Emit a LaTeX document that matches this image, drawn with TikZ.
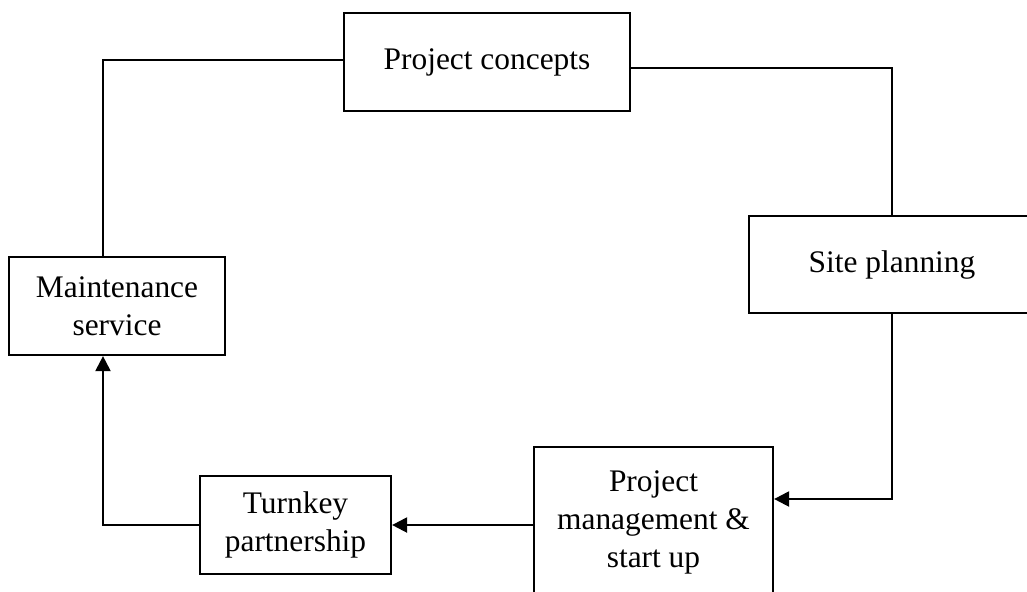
\documentclass[tikz,border=0pt]{standalone}
\usepackage{fontspec}
\setmainfont{Liberation Serif}
\usepackage{tikz}
\usetikzlibrary{arrows.meta, positioning}

\begin{document}
\begin{tikzpicture}[
  x=0.5pt, y=-0.5pt,
  box/.style={rectangle, draw, line width=1.1pt, inner sep=0pt, align=center, font=\fontsize{15.7}{19}\selectfont},
  arrow/.style={-{Triangle[length=7.5pt, width=7.5pt]}, line width=1.1pt},
  link/.style={line width=0.9pt}
]
\useasboundingbox (0,0) rectangle (1027,591);

% Boxes
\node[box, minimum width=143pt, minimum height=49pt] (concepts) at (487, 62) {Project concepts};
\node[box, minimum width=143pt, minimum height=48.5pt] (site) at (892, 264.5) {Site planning};
\node[box, minimum width=119.5pt, minimum height=75pt] (pm) at (653.5, 522) {Project\\management \&\\start up};
\node[box, minimum width=95.5pt, minimum height=49pt] (turnkey) at (295.5, 525) {Turnkey\\partnership};
\node[box, minimum width=108pt, minimum height=49pt] (maint) at (117, 306) {Maintenance\\service};

\coordinate (lx) at (103, 0);

% Arrows
\draw[link] (maint.north -| lx) |- ([yshift=1pt]concepts.west);
\draw[link] ([yshift=-3pt]concepts.east) -| (site.north);
\draw[arrow] (site.south) |- ([yshift=11.5pt]pm.east);
\draw[arrow] (turnkey.east -| pm.west) -- (turnkey.east);
\draw[arrow] (turnkey.west) -| (maint.south -| lx);

\end{tikzpicture}
\end{document}
